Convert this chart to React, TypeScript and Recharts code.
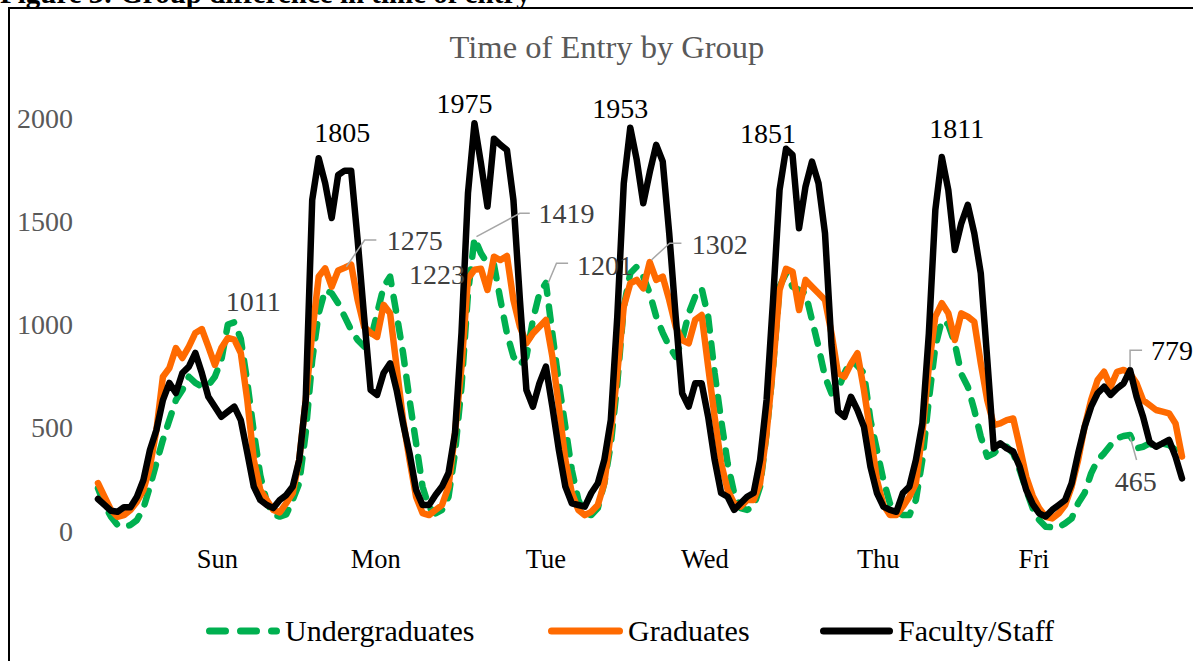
import React from "react";
import { LineChart, Line, XAxis, YAxis, LabelList } from "recharts";

// hourly entries, Sun 00:00 .. Sat 23:00 (24 per row)
const UNDERGRAD = [
  207, 126, 69, 29, 21, 29, 53, 111, 215, 329, 441, 537, 634, 683, 747, 717, 700, 705, 747, 828, 1000, 1011, 930, 720,
  480, 270, 140, 80, 70, 80, 150, 231, 475, 828, 1054, 1167, 1151, 1103, 1038, 973, 925, 893, 925, 1054, 1183, 1232, 1050, 862,
  634, 426, 215, 115, 85, 102, 166, 378, 699, 1150, 1419, 1345, 1296, 1290, 1119, 957, 844, 804, 844, 1022, 1151, 1201, 957, 715,
  505, 295, 150, 85, 77, 111, 231, 420, 715, 1086, 1248, 1280, 1232, 1151, 1038, 960, 893, 844, 925, 1054, 1135, 1175, 1038, 764,
  537, 328, 184, 111, 102, 118, 215, 475, 796, 1183, 1248, 1183, 1167, 1151, 1022, 893, 747, 667, 683, 764, 828, 800, 764, 537,
  392, 247, 134, 93, 77, 77, 150, 344, 634, 893, 1020, 1000, 909, 760, 699, 586, 457, 360, 376, 408, 408, 376, 295, 199,
  110, 53, 21, 18, 18, 37, 61, 134, 184, 279, 344, 376, 416, 449, 460, 465, 400, 408, 424, 408, 424, 416, 392, 344,
];

const GRAD = [
  232, 166, 102, 69, 77, 102, 142, 199, 311, 489, 747, 789, 886, 838, 893, 959, 978, 893, 804, 886, 935, 927, 862, 634,
  344, 199, 150, 102, 90, 135, 184, 344, 634, 959, 1232, 1272, 1183, 1262, 1275, 1290, 1119, 989, 960, 940, 1095, 1055, 796, 537,
  344, 166, 87, 77, 102, 126, 215, 475, 796, 1223, 1265, 1270, 1167, 1328, 1312, 1332, 1119, 989, 909, 957, 989, 1022, 844, 602,
  344, 184, 102, 77, 93, 126, 231, 475, 764, 1086, 1199, 1216, 1175, 1302, 1216, 1232, 1119, 989, 925, 909, 1022, 1046, 796, 553,
  328, 199, 134, 118, 150, 150, 231, 475, 796, 1167, 1270, 1256, 1070, 1216, 1183, 1151, 1119, 957, 764, 747, 810, 861, 683, 475,
  247, 126, 77, 77, 118, 166, 231, 475, 796, 1038, 1103, 1054, 925, 1054, 1038, 1013, 812, 634, 513, 521, 537, 545, 408, 263,
  170, 110, 69, 61, 85, 126, 215, 344, 505, 634, 731, 771, 699, 771, 780, 763, 715, 634, 610, 586, 578, 570, 521, 360,
];

const FACULTY = [
  155, 126, 98, 93, 115, 115, 166, 247, 392, 489, 634, 717, 668, 765, 796, 862, 765, 650, 602, 553, 578, 602, 537, 378,
  215, 150, 126, 111, 150, 174, 215, 344, 634, 1603, 1805, 1684, 1516, 1724, 1745, 1745, 1409, 1038, 683, 659, 765, 812, 683, 521,
  376, 199, 126, 126, 174, 215, 281, 475, 959, 1637, 1975, 1780, 1571, 1900, 1870, 1845, 1603, 1119, 683, 602, 715, 796, 602, 392,
  215, 134, 126, 118, 184, 231, 344, 537, 1038, 1684, 1953, 1797, 1587, 1737, 1870, 1790, 1442, 1038, 667, 602, 715, 715, 553, 344,
  184, 166, 102, 134, 166, 184, 344, 634, 1119, 1651, 1851, 1821, 1466, 1668, 1789, 1684, 1442, 900, 580, 553, 650, 586, 505, 311,
  184, 118, 102, 93, 184, 215, 344, 521, 957, 1555, 1811, 1651, 1361, 1490, 1579, 1442, 1248, 830, 400, 425, 400, 385, 311, 199,
  130, 85, 70, 102, 126, 150, 231, 376, 505, 602, 667, 699, 659, 690, 715, 779, 650, 553, 432, 408, 424, 441, 360, 255,
];

const DAY_LABELS = ["Sun", "Mon", "Tue", "Wed", "Thu", "Fri"];
const DAY_TICKS = [18.4, 42.8, 69, 93.5, 120.2, 144.2];
const Y_TICKS = [0, 500, 1000, 1500, 2000];

// which points carry a data label, and where the label sits
type Mark = { idx: number; dx: number; dy: number; leader?: number[][] };
const UNDERGRAD_MARKS: Mark[] = [
  { idx: 21, dx: 19, dy: -21 },
  { idx: 58, dx: 92, dy: -24, leader: [[2, -1.3], [45.3, -24.7], [55.3, -24.7]] },
  { idx: 69, dx: 59, dy: -17, leader: [[2.2, 0.3], [10.6, -19.7], [22.2, -19.7]] },
  { idx: 159, dx: 5.6, dy: 46.7, leader: [[0, 1.7], [6.5, 25]] },
];
const GRAD_MARKS: Mark[] = [
  { idx: 38, dx: 70, dy: -27, leader: [[1.7, -1], [20, -27.7], [31.7, -27.7]] },
  { idx: 57, dx: -31, dy: -3.5 },
  { idx: 85, dx: 70, dy: -18, leader: [[1.7, -2.2], [20, -19], [31.7, -19]] },
];
const FACULTY_MARKS: Mark[] = [
  { idx: 34, dx: 23.5, dy: -26 },
  { idx: 58, dx: -10, dy: -20 },
  { idx: 82, dx: -10, dy: -19 },
  { idx: 106, dx: -18, dy: -15.5 },
  { idx: 130, dx: 15, dy: -29 },
  { idx: 159, dx: 42, dy: -20, leader: [[0, -3], [0, -20], [12, -20]] },
];

const SERIF = "'Liberation Serif', 'Times New Roman', serif";
const GREEN = "#00B050";
const ORANGE = "#FF6A00";
const BLACK = "#000000";
const DASH = "14 13";

const rows = FACULTY.map((_, i) => ({
  hour: i,
  undergrad: UNDERGRAD[i],
  grad: GRAD[i],
  faculty: FACULTY[i],
}));

function labelRenderer(marks: Mark[], color: string) {
  return (props: any) => {
    const vb = props.viewBox || {};
    const px = vb.x ?? props.x;
    const py = vb.y ?? props.y;
    const mark = marks.find((m) => m.idx === props.index);
    if (!mark || px == null || py == null) return null;
    return (
      <g>
        {mark.leader && (
          <polyline
            points={mark.leader.map(([a, b]) => `${px + a},${py + b}`).join(" ")}
            fill="none"
            stroke="#A6A6A6"
            strokeWidth={1.5}
          />
        )}
        <text
          x={px + mark.dx}
          y={py + mark.dy}
          textAnchor="middle"
          dominantBaseline="central"
          fontFamily={SERIF}
          fontSize={28}
          fill={color}
        >
          {props.value}
        </text>
      </g>
    );
  };
}

const XTick = (props: any) => {
  const { x, y, payload } = props;
  const i = DAY_TICKS.indexOf(payload.value);
  return (
    <text x={x} y={y + 37} textAnchor="middle" fontFamily={SERIF} fontSize={26.5} fill="#000">
      {DAY_LABELS[i]}
    </text>
  );
};

const YTick = (props: any) => {
  const { x, y, payload } = props;
  return (
    <text x={x - 25} y={y} textAnchor="end" dominantBaseline="central" fontFamily={SERIF} fontSize={28} fill="#595959">
      {payload.value}
    </text>
  );
};

export default function App() {
  return (
    <div
      style={{
        position: "absolute",
        left: 0,
        top: 0,
        width: 1193,
        height: 661,
        overflow: "hidden",
        background: "#fff",
        fontFamily: SERIF,
      }}
    >
      <div
        style={{
          position: "absolute",
          left: 0,
          top: -21,
          fontSize: 29,
          lineHeight: "29px",
          fontWeight: "bold",
          whiteSpace: "nowrap",
          color: "#000",
        }}
      >
        Figure 3: Group difference in time of entry
      </div>
      <div
        style={{
          position: "absolute",
          left: 8,
          top: 7,
          width: 1200,
          height: 670,
          border: "2px solid #000",
        }}
      />
      <div style={{ position: "absolute", left: 0, top: 0 }}>
        <LineChart width={1193} height={661} data={rows} margin={{ top: 118, right: 11, bottom: 90, left: 0 }}>
          <XAxis
            dataKey="hour"
            type="number"
            domain={[0, 167]}
            ticks={DAY_TICKS}
            interval={0}
            height={40}
            axisLine={false}
            tickLine={false}
            tickSize={0}
            tickMargin={0}
            tick={<XTick />}
          />
          <YAxis
            type="number"
            domain={[0, 2000]}
            ticks={Y_TICKS}
            interval={0}
            width={98}
            axisLine={false}
            tickLine={false}
            tickSize={0}
            tickMargin={0}
            tick={<YTick />}
          />
          <Line
            dataKey="undergrad"
            type="linear"
            stroke={GREEN}
            strokeWidth={6.5}
            strokeDasharray={DASH}
            strokeLinecap="round"
            strokeLinejoin="round"
            dot={false}
            isAnimationActive={false}
          >
            <LabelList dataKey="undergrad" content={labelRenderer(UNDERGRAD_MARKS, "#404040")} />
          </Line>
          <Line
            dataKey="grad"
            type="linear"
            stroke={ORANGE}
            strokeWidth={6.5}
            strokeLinecap="round"
            strokeLinejoin="round"
            dot={false}
            isAnimationActive={false}
          >
            <LabelList dataKey="grad" content={labelRenderer(GRAD_MARKS, "#404040")} />
          </Line>
          <Line
            dataKey="faculty"
            type="linear"
            stroke={BLACK}
            strokeWidth={6.5}
            strokeLinecap="round"
            strokeLinejoin="round"
            dot={false}
            isAnimationActive={false}
          >
            <LabelList dataKey="faculty" content={labelRenderer(FACULTY_MARKS, "#000")} />
          </Line>
        </LineChart>
      </div>
      <svg
        width={1193}
        height={661}
        style={{ position: "absolute", left: 0, top: 0, pointerEvents: "none" }}
      >
        <text x={607} y={47} textAnchor="middle" dominantBaseline="central" fontFamily={SERIF} fontSize={32.5} fill="#595959">
          Time of Entry by Group
        </text>
        <line x1={209.5} y1={631} x2={276.5} y2={631} stroke={GREEN} strokeWidth={7} strokeDasharray="16 15" strokeLinecap="round" />
        <text x={285} y={630} dominantBaseline="central" fontFamily={SERIF} fontSize={30} fill="#000">
          Undergraduates
        </text>
        <line x1={551.5} y1={631} x2={619.5} y2={631} stroke={ORANGE} strokeWidth={7} strokeLinecap="round" />
        <text x={628} y={630} dominantBaseline="central" fontFamily={SERIF} fontSize={30} fill="#000">
          Graduates
        </text>
        <line x1={823.5} y1={631} x2={889.5} y2={631} stroke={BLACK} strokeWidth={7} strokeLinecap="round" />
        <text x={898} y={630} dominantBaseline="central" fontFamily={SERIF} fontSize={30} fill="#000">
          Faculty/Staff
        </text>
      </svg>
    </div>
  );
}
